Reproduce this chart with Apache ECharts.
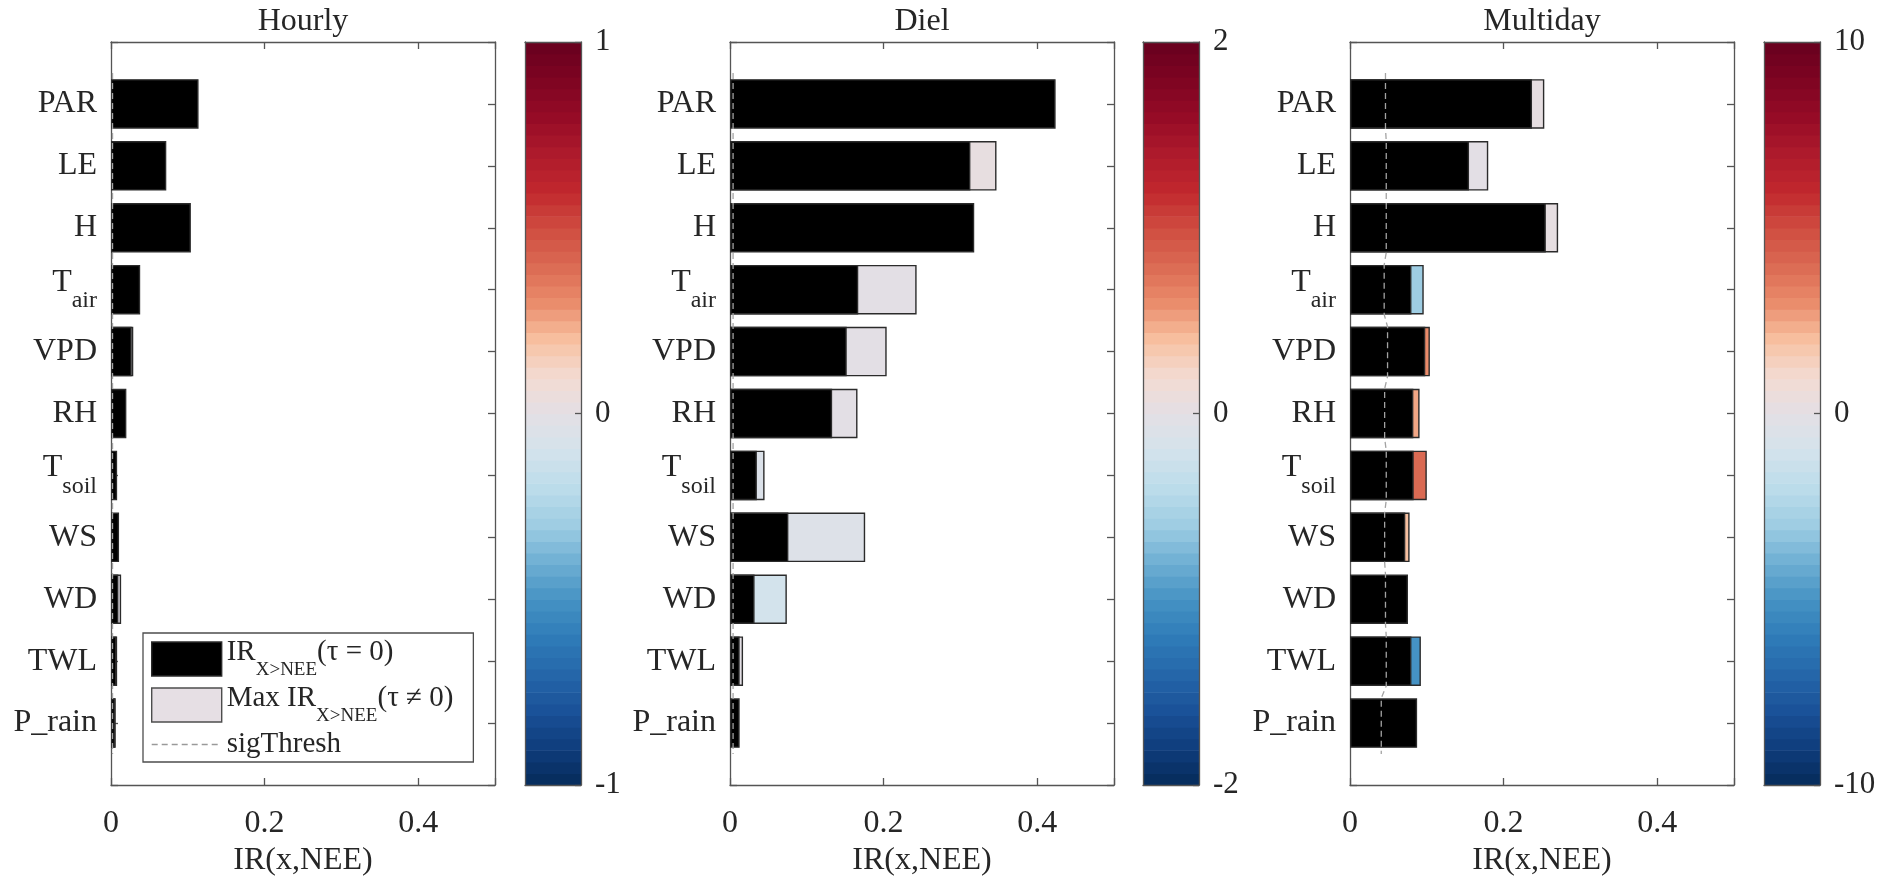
<!DOCTYPE html>
<html>
<head>
<meta charset="utf-8">
<script src="https://cdn.jsdelivr.net/npm/echarts@6/dist/echarts.min.js"></script>
<style>
  html, body { margin: 0; padding: 0; background: #ffffff; }
  #chart { width: 1885px; height: 877px; }
</style>
</head>
<body>
<div id="chart"></div>
<script>
// ---- data -------------------------------------------------------------
const categories = ['PAR', 'LE', 'H', 'T_air', 'VPD', 'RH', 'T_soil', 'WS', 'WD', 'TWL', 'P_rain'];
const panelTitles = ['Hourly', 'Diel', 'Multiday'];
const xTickLabels = ['0', '0.2', '0.4'];
const lagRanges = [1, 2, 10];
const colorbarTickLabels = [['-1', '0', '1'], ['-2', '0', '2'], ['-10', '0', '10']];

// IR at zero lag, max IR at non-zero lag (null where it stays below the zero-lag value),
// lag of that maximum, and significance threshold per driver
const hourlyIR0       = [0.114, 0.072, 0.104, 0.038, 0.027, 0.020, 0.008, 0.0105, 0.0096, 0.0072, 0.0054];
const hourlyMaxIR     = [null, null, null, null, 0.029, null, null, null, 0.0132, 0.0080, 0.0062];
const hourlyLag       = [null, null, null, null, 0, null, null, null, 0, 0.3, 0.3];
const hourlySigThresh = [0.002, 0.002, 0.002, 0.002, 0.002, 0.002, 0.002, 0.002, 0.002, 0.002, 0.002];

const dielIR0       = [0.424, 0.313, 0.318, 0.167, 0.152, 0.133, 0.035, 0.076, 0.032, 0.0126, 0.0126];
const dielMaxIR     = [null, 0.347, null, 0.243, 0.204, 0.166, 0.045, 0.176, 0.074, 0.017, null];
const dielLag       = [null, 0.05, null, 0, 0, 0, -0.1, -0.08, -0.2, 0, null];
const dielSigThresh = [0.004, 0.004, 0.004, 0.004, 0.004, 0.004, 0.004, 0.004, 0.004, 0.004, 0.004];

const multidayIR0       = [0.237, 0.155, 0.255, 0.080, 0.098, 0.0825, 0.083, 0.072, 0.0755, 0.080, 0.0874];
const multidayMaxIR     = [0.253, 0.180, 0.271, 0.096, 0.104, 0.0906, 0.100, 0.0776, null, 0.0923, null];
const multidayLag       = [0.2, 0, 0.2, -3, 3, 2.5, 4, 2, null, -5, null];
const multidaySigThresh = [0.0462, 0.0472, 0.0472, 0.0445, 0.0489, 0.0451, 0.0472, 0.0451, 0.0462, 0.0472, 0.0407];

// ---- styling ----------------------------------------------------------
const FONT = '"Liberation Serif", "Times New Roman", Times, serif';
const INK = '#262626';
const FRAME = '#555555';
const EDGE = '#2b2b2b';
// diverging blue -> grey -> red colour scale for the lag
const lagColors = ['#062b5a', '#0f3d7c', '#1a5198', '#2567aa', '#2f7cb8', '#4592c4', '#6fafd3', '#9ecde3',
  '#bcdcea', '#d3e3ec', '#e3dfe5', '#f3dbd2', '#f7c0a0', '#ea8b6a', '#da6a53', '#cf4c40', '#c1272d',
  '#ae1a2c', '#950b26', '#7e0422', '#67001f'];

const PLOT_LEFT = [111, 730, 1350];
const CB_LEFT = [525, 1143, 1764];
const PLOT_W = 384, CB_W = 56, TOP = 42, HEIGHT = 743;
const N_BANDS = 64;

const panels = [
  { title: panelTitles[0], ir0: hourlyIR0, maxIR: hourlyMaxIR, lag: hourlyLag, thresh: hourlySigThresh, range: lagRanges[0], cbLabels: colorbarTickLabels[0] },
  { title: panelTitles[1], ir0: dielIR0, maxIR: dielMaxIR, lag: dielLag, thresh: dielSigThresh, range: lagRanges[1], cbLabels: colorbarTickLabels[1] },
  { title: panelTitles[2], ir0: multidayIR0, maxIR: multidayMaxIR, lag: multidayLag, thresh: multidaySigThresh, range: lagRanges[2], cbLabels: colorbarTickLabels[2] }
];

const frameLine = { show: true, onZero: false, lineStyle: { color: FRAME, width: 1.3 } };
const innerTick = { show: true, inside: true, length: 7, lineStyle: { color: FRAME, width: 1.3 } };

// driver names such as T_air are written with a subscript
function categoryLabel(name) {
  if (!name) return '';
  if (name.indexOf('T_') === 0) return '{m|T}{s|' + name.slice(2) + '}';
  return '{p|' + name + '}';
}
const categoryRich = {
  p: { fontFamily: FONT, fontSize: 32, color: INK, lineHeight: 34 },
  m: { fontFamily: FONT, fontSize: 32, color: INK, lineHeight: 34, verticalAlign: 'top' },
  s: { fontFamily: FONT, fontSize: 24, color: INK, padding: [23, 0, 0, 0] }
};

function xTick(v) {
  const k = Math.round(v / 0.2);
  return (Math.abs(v - k * 0.2) < 1e-9 && k < xTickLabels.length) ? xTickLabels[k] : '';
}

// dashed threshold path: one vertical run per driver row
function thresholdPath(th) {
  const pts = [[th[0], 0.5]];
  th.forEach((v, i) => { pts.push([v, i + 1 - 0.4]); pts.push([v, i + 1 + 0.4]); });
  pts.push([th[th.length - 1], th.length + 0.5]);
  return pts;
}

const grid = [], xAxis = [], yAxis = [], series = [], visualMap = [];

panels.forEach((p, k) => {
  grid.push({ left: PLOT_LEFT[k], top: TOP, width: PLOT_W, height: HEIGHT, containLabel: false, outerBoundsMode: 'none' });
});
panels.forEach((p, k) => {
  grid.push({ left: CB_LEFT[k], top: TOP, width: CB_W, height: HEIGHT, containLabel: false, outerBoundsMode: 'none' });
});

panels.forEach((p, k) => {
  // bottom and top x axes of the bar panel
  xAxis.push({
    type: 'value', gridIndex: k, position: 'bottom', min: 0, max: 0.5, interval: 0.2,
    axisLine: frameLine, axisTick: innerTick, splitLine: { show: false },
    axisLabel: { margin: 23, fontFamily: FONT, fontSize: 32, color: INK, formatter: xTick },
    name: 'IR(x,NEE)', nameLocation: 'middle', nameGap: 60, nameMoveOverlap: false,
    nameTextStyle: { fontFamily: FONT, fontSize: 32, color: INK }
  });
  xAxis.push({
    type: 'value', gridIndex: k, position: 'top', min: 0, max: 0.5, interval: 0.2,
    axisLine: frameLine, axisTick: innerTick, splitLine: { show: false }, axisLabel: { show: false },
    name: p.title, nameLocation: 'middle', nameGap: 4,
    nameTextStyle: { fontFamily: FONT, fontSize: 32, color: INK }
  });
  // category axis (left) and matching value axis (right) for the threshold path
  yAxis.push({
    type: 'category', gridIndex: k, position: 'left', inverse: true, boundaryGap: false,
    data: [''].concat(categories, ['']),
    axisLine: frameLine, axisTick: Object.assign({ interval: 0 }, innerTick), splitLine: { show: false },
    axisLabel: { interval: 0, margin: 14, formatter: categoryLabel, rich: categoryRich, fontFamily: FONT, fontSize: 32, color: INK }
  });
  yAxis.push({
    type: 'value', gridIndex: k, position: 'right', inverse: true, min: 0, max: categories.length + 1, interval: 1,
    axisLine: frameLine, axisTick: innerTick, splitLine: { show: false }, axisLabel: { show: false }
  });
});

panels.forEach((p, k) => {
  const g = 3 + k;
  xAxis.push({ type: 'value', gridIndex: g, position: 'bottom', min: 0, max: 1, z: 5,
    axisLine: frameLine, axisTick: { show: false }, axisLabel: { show: false }, splitLine: { show: false } });
  xAxis.push({ type: 'value', gridIndex: g, position: 'top', min: 0, max: 1, z: 5,
    axisLine: frameLine, axisTick: { show: false }, axisLabel: { show: false }, splitLine: { show: false } });
  yAxis.push({ type: 'value', gridIndex: g, position: 'right', min: -p.range, max: p.range, interval: p.range, z: 5,
    axisLine: frameLine, axisTick: { show: true, inside: true, length: 6, lineStyle: { color: FRAME, width: 1.3 } },
    splitLine: { show: false },
    axisLabel: { margin: 14, fontFamily: FONT, fontSize: 31, color: INK,
      formatter: v => p.cbLabels[Math.round(v / p.range) + 1] } });
  yAxis.push({ type: 'value', gridIndex: g, position: 'left', min: -p.range, max: p.range, z: 5,
    axisLine: frameLine, axisTick: { show: false }, axisLabel: { show: false }, splitLine: { show: false } });
});

panels.forEach((p, k) => {
  const maxData = [];
  p.maxIR.forEach((v, i) => { if (v != null) maxData.push([v, i + 1, p.lag[i]]); });
  series.push({
    name: 'MaxIR', type: 'bar', xAxisIndex: 2 * k, yAxisIndex: 2 * k,
    data: maxData, encode: { x: 0, y: 1 }, barWidth: '80%', barGap: '-100%',
    itemStyle: { color: '#e3dfe5', borderColor: EDGE, borderWidth: 1.4 }, silent: true
  });
  series.push({
    name: 'IR0', type: 'bar', xAxisIndex: 2 * k, yAxisIndex: 2 * k,
    data: p.ir0.map((v, i) => [v, i + 1]), encode: { x: 0, y: 1 }, barWidth: '80%', barGap: '-100%',
    itemStyle: { color: '#000000', borderColor: EDGE, borderWidth: 1.4 }, silent: true
  });
  series.push({
    name: 'sigThresh', type: 'line', xAxisIndex: 2 * k, yAxisIndex: 2 * k + 1,
    data: thresholdPath(p.thresh), symbol: 'none', showSymbol: false, z: 5, silent: true,
    itemStyle: { color: 'rgba(0,0,0,0)' },
    lineStyle: { color: '#a3a3a3', width: 1.3, type: [6, 4] }
  });
});

panels.forEach((p, k) => {
  const bands = [];
  const step = 2 * p.range / N_BANDS;
  for (let j = 0; j < N_BANDS; j++) {
    const lo = -p.range + j * step;
    bands.push([lo, lo + step, lo + step / 2]);
  }
  series.push({
    type: 'custom', xAxisIndex: 6 + 2 * k, yAxisIndex: 6 + 2 * k, data: bands, silent: true, z: 1,
    renderItem: (params, api) => {
      const a = api.coord([0, api.value(0)]);
      const b = api.coord([1, api.value(1)]);
      return {
        type: 'rect',
        shape: { x: a[0], y: Math.min(a[1], b[1]), width: b[0] - a[0], height: Math.abs(a[1] - b[1]) + 0.7 },
        style: { fill: api.visual('color') }
      };
    }
  });
});

panels.forEach((p, k) => {
  visualMap.push({
    type: 'continuous', show: false, min: -p.range, max: p.range, dimension: 2,
    seriesIndex: [3 * k, 9 + k], inRange: { color: lagColors }
  });
});

const legendRich = {
  m: { fontFamily: FONT, fontSize: 29, color: INK, lineHeight: 31, verticalAlign: 'top' },
  s: { fontFamily: FONT, fontSize: 19, color: INK, padding: [23, 0, 0, 0] },
  n: { fontFamily: FONT, fontSize: 29, color: INK, lineHeight: 31 }
};
const legendText = {
  IR0: '{m|IR}{s|X>NEE}{m|(\u03C4 = 0)}',
  MaxIR: '{m|Max IR}{s|X>NEE}{m|(\u03C4 \u2260 0)}',
  sigThresh: '{n|sigThresh}'
};

const option = {
  animation: false,
  backgroundColor: '#ffffff',
  grid, xAxis, yAxis, series, visualMap,
  legend: {
    orient: 'vertical', left: 143, top: 633, padding: [5, 20, 3, 8],
    itemWidth: 70, itemHeight: 34, itemGap: 4, selectedMode: false,
    backgroundColor: '#ffffff', borderColor: '#4d4d4d', borderWidth: 1.3,
    textStyle: { fontFamily: FONT, fontSize: 29, color: INK, rich: legendRich },
    formatter: name => legendText[name],
    data: [
      { name: 'IR0', icon: 'rect', itemStyle: { color: '#000000', borderColor: EDGE, borderWidth: 1.4 } },
      { name: 'MaxIR', icon: 'rect', itemStyle: { color: '#e6dfe4', borderColor: '#4d4d4d', borderWidth: 1.4 } },
      { name: 'sigThresh', itemStyle: { color: 'rgba(0,0,0,0)', borderWidth: 0 },
        lineStyle: { color: '#9a9a9a', width: 1.3, type: [6, 4] } }
    ]
  }
};

const chart = echarts.init(document.getElementById('chart'), null, { renderer: 'canvas' });
chart.setOption(option);
</script>
</body>
</html>
